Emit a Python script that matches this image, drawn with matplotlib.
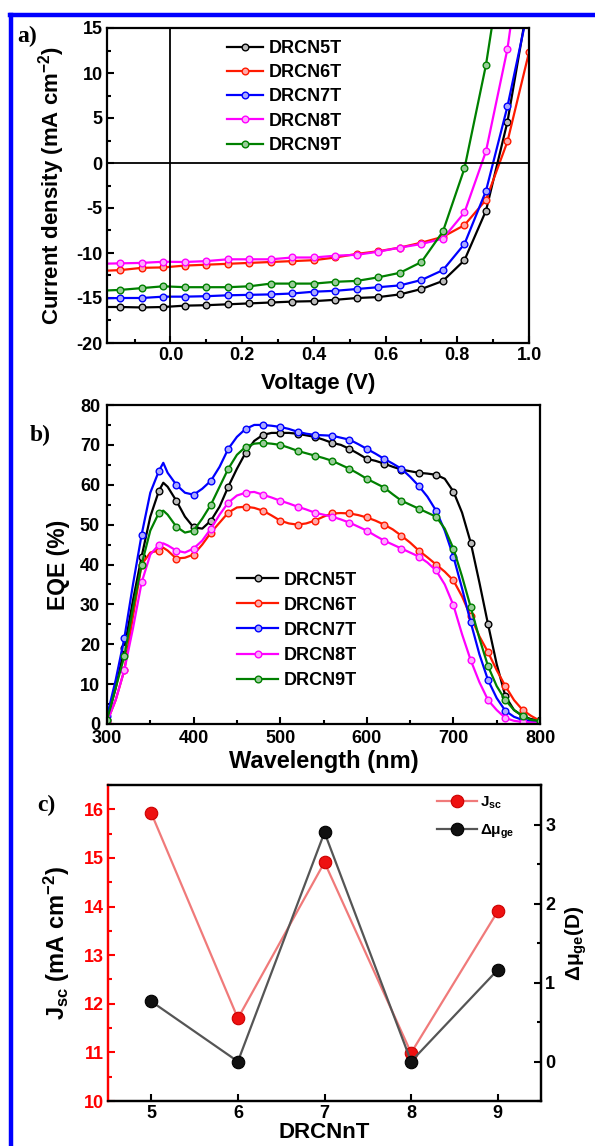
import matplotlib
matplotlib.use("Agg")
import matplotlib.pyplot as plt
from matplotlib.lines import Line2D
from matplotlib.ticker import MultipleLocator
import numpy as np

plt.rcParams['font.family'] = ['Liberation Sans', 'DejaVu Sans']
plt.rcParams['font.weight'] = 'bold'
plt.rcParams['axes.labelweight'] = 'bold'
plt.rcParams['axes.unicode_minus'] = False
plt.rcParams['mathtext.fontset'] = 'custom'
plt.rcParams['mathtext.rm'] = 'Liberation Sans:bold'
plt.rcParams['mathtext.it'] = 'Liberation Sans:bold'
plt.rcParams['mathtext.bf'] = 'Liberation Sans:bold'
plt.rcParams['mathtext.default'] = 'regular'

# ---- data ----
names = ["DRCN5T", "DRCN6T", "DRCN7T", "DRCN8T", "DRCN9T"]
colors = ["#000000", "#ff1a00", "#0000ff", "#ff00ff", "#008000"]
faces = ["#bbbbbb", "#ffaaaa", "#aaaaff", "#ffaaff", "#99cc99"]

# a) J-V curves
voltage = [-0.20, -0.14, -0.08, -0.02, 0.04, 0.10, 0.16, 0.22, 0.28, 0.34, 0.40,
           0.46, 0.52, 0.58, 0.64, 0.70, 0.76, 0.82, 0.88, 0.94, 1.00]
j_5t = [-16.0, -16.0, -16.05, -16.0, -15.85, -15.8, -15.7, -15.6, -15.5, -15.4, -15.35,
        -15.2, -15.0, -14.9, -14.6, -14.0, -13.1, -10.8, -5.3, 4.6, 18.5]
j_6t = [-12.0, -11.9, -11.65, -11.6, -11.4, -11.3, -11.2, -11.1, -11.0, -10.9, -10.8,
        -10.5, -10.1, -9.8, -9.4, -8.85, -8.2, -6.9, -4.1, 2.4, 12.3]
j_7t = [-15.05, -15.0, -15.0, -14.85, -14.85, -14.8, -14.7, -14.65, -14.6, -14.5, -14.3,
        -14.2, -14.0, -13.8, -13.6, -13.0, -11.9, -9.0, -3.1, 6.3, 17.6]
j_8t = [-11.2, -11.15, -11.1, -10.97, -11.0, -10.9, -10.7, -10.7, -10.7, -10.5, -10.5,
        -10.3, -10.2, -9.85, -9.4, -9.0, -8.4, -5.5, 1.3, 12.7, 30.0]
j_9t = [-14.2, -14.1, -13.9, -13.7, -13.8, -13.8, -13.8, -13.7, -13.4, -13.4, -13.4,
        -13.2, -13.1, -12.7, -12.2, -11.0, -7.6, -0.6, 10.9, 26.3, 40.0]

# b) EQE spectra
wavelength = [300, 310, 320, 330, 340, 350, 360, 365, 370, 380, 390, 400, 410, 420, 430,
              440, 450, 460, 470, 480, 490, 500, 510, 520, 530, 540, 550, 560, 570, 580,
              590, 600, 610, 620, 630, 640, 650, 660, 670, 680, 690, 700, 710, 720, 730,
              740, 750, 760, 770, 780, 790, 800]
eqe_5t = [1, 9, 19, 31, 42, 52, 58.5, 60.5, 59.5, 56, 52, 49.3, 49, 51, 54.5,
          59.5, 64, 68, 71, 72.5, 73, 73, 73, 72.8, 72.4, 72, 71.3, 70.5, 70, 69,
          67.8, 66.5, 66, 65.3, 64.5, 63.8, 63.4, 63, 62.8, 62.5, 61.5, 58.3, 53, 45.5, 35.5,
          25, 15, 7, 3.5, 2, 1.2, 1]
eqe_6t = [0.5, 6, 13.5, 27, 40, 43, 43.5, 44.2, 43.5, 41.5, 41.7, 42.5, 45, 48, 50.5,
          53, 54.3, 54.5, 54.2, 53.5, 52.3, 51, 50.3, 50, 50.3, 51, 52, 52.8, 52.9, 52.8,
          52.4, 51.8, 51, 50, 48.8, 47.2, 45.5, 43.5, 41.8, 40, 38.2, 36, 32, 27, 22,
          18, 13.5, 9.5, 6, 3.5, 2, 0.8]
eqe_7t = [2, 11, 21.5, 35, 47.5, 58, 63.5, 65.5, 63, 60, 58, 57.5, 59, 61, 64.5,
          69, 72, 74, 75, 75, 74.8, 74.5, 74, 73.3, 72.8, 72.5, 72.4, 72.3, 71.8, 71.3,
          70.2, 69, 67.8, 66.5, 65.3, 64, 62, 59.7, 57, 53.5, 48.5, 42, 34, 25.5, 17.5,
          11, 6.5, 3.3, 1.8, 1, 0.7, 0.5]
eqe_8t = [0.5, 6, 13.5, 24, 35.5, 42.5, 45, 45.3, 44.8, 43.5, 43, 44, 46, 49, 52.5,
          55.5, 57.3, 58, 58.2, 57.5, 56.8, 56, 55.3, 54.5, 53.8, 53, 52.5, 52, 51.3, 50.5,
          49.5, 48.5, 47.2, 46, 45, 44, 43, 42, 40.5, 38.5, 35, 29.8, 22.5, 16, 10.5,
          6, 3.5, 1.5, 0.8, 0.5, 0.4, 0.3]
eqe_9t = [1, 9, 17, 29, 40, 48.5, 53, 53.5, 52.5, 49.5, 48, 48.5, 51.5, 55, 59.5,
          64, 67.5, 69.5, 70.3, 70.5, 70.3, 70, 69.3, 68.5, 67.9, 67.3, 66.7, 66, 65, 64,
          62.8, 61.5, 60.4, 59.3, 57.6, 56, 55, 54, 53, 52, 49, 44, 37, 29.3, 21.5,
          14.5, 9.5, 6, 3.5, 2, 1, 0.8]

# c) Jsc and dipole change vs n
n_thio = [5, 6, 7, 8, 9]
jsc = [15.92, 11.70, 14.91, 10.99, 13.90]
dmu = [0.76, 0.0, 2.90, 0.0, 1.16]

TICK_FS = 13


def style_axes(ax, right=False):
    for s in ax.spines.values():
        s.set_linewidth(1.6)
    ax.tick_params(which='both', direction='in', top=False, right=right,
                   width=1.5, labelsize=TICK_FS, pad=3)
    ax.tick_params(which='major', length=5)
    ax.tick_params(which='minor', length=3)


fig = plt.figure(figsize=(5.95, 11.46), dpi=100)
W, H = 595.0, 1146.0


def add_ax(x0, y0, x1, y1):
    return fig.add_axes([x0 / W, 1 - y1 / H, (x1 - x0) / W, (y1 - y0) / H])


# ---- panel a ----
ax1 = add_ax(107, 28, 529, 343)
jv = [j_5t, j_6t, j_7t, j_8t, j_9t]
for name, c, f, j in zip(names, colors, faces, jv):
    ax1.plot(voltage, j, color=c, lw=1.6, marker='o', ms=4.8, mfc=f, mec=c, mew=1.0,
             label=name)
ax1.axhline(0, color='black', lw=1.3)
ax1.axvline(0, color='black', lw=1.3)
ax1.set_xlim(-0.177, 1.0)
ax1.set_ylim(-20, 15)
ax1.xaxis.set_major_locator(MultipleLocator(0.2))
ax1.xaxis.set_minor_locator(MultipleLocator(0.1))
ax1.yaxis.set_major_locator(MultipleLocator(5))
ax1.yaxis.set_minor_locator(MultipleLocator(2.5))
ax1.xaxis.set_major_formatter(plt.FuncFormatter(lambda v, p: f"{v:.1f}"))
style_axes(ax1)
ax1.set_xlabel("Voltage (V)", fontsize=16)
ax1.set_ylabel("Current density (mA cm$^{-2}$)", fontsize=16)
ax1.xaxis.set_label_coords(0.5, -0.096)
ax1.yaxis.set_label_coords(-0.095, 0.5)
ax1.legend(loc='upper left', bbox_to_anchor=(0.284, 0.962), frameon=False,
           fontsize=13, handlelength=2.0, handletextpad=0.3, labelspacing=0.4,
           borderpad=0, borderaxespad=0)

# ---- panel b ----
ax2 = add_ax(107, 405, 540, 724)
eqe = [eqe_5t, eqe_6t, eqe_7t, eqe_8t, eqe_9t]
mark_idx = [i for i, w in enumerate(wavelength) if w % 20 == 0]
for name, c, f, e in zip(names, colors, faces, eqe):
    ax2.plot(wavelength, e, color=c, lw=1.6, marker='o', ms=4.8, mfc=f, mec=c, mew=1.0,
             markevery=mark_idx, label=name)
ax2.set_xlim(300, 800)
ax2.set_ylim(0, 80)
ax2.xaxis.set_major_locator(MultipleLocator(100))
ax2.xaxis.set_minor_locator(MultipleLocator(50))
ax2.yaxis.set_major_locator(MultipleLocator(10))
ax2.yaxis.set_minor_locator(MultipleLocator(5))
style_axes(ax2)
ax2.tick_params(axis='x', pad=4.5)
ax2.tick_params(axis='y', pad=5)
ax2.set_xlabel("Wavelength (nm)", fontsize=17)
ax2.set_ylabel("EQE (%)", fontsize=16.5)
ax2.xaxis.set_label_coords(0.5, -0.082)
ax2.yaxis.set_label_coords(-0.085, 0.5)
ax2.legend(loc='upper left', bbox_to_anchor=(0.30, 0.478), frameon=False,
           fontsize=13, handlelength=2.3, handletextpad=0.3, labelspacing=0.45,
           borderpad=0, borderaxespad=0)

# ---- panel c ----
ax3 = add_ax(108, 785, 541, 1101)
ax4 = ax3.twinx()
l1, = ax3.plot(n_thio, jsc, color='#f07a7a', lw=1.6, marker='o', ms=9,
               mfc='#ee1111', mec='#cc0000', mew=0.8, label='J$_{sc}$')
l2, = ax4.plot(n_thio, dmu, color='#555555', lw=1.6, marker='o', ms=9,
               mfc='#111111', mec='#000000', mew=0.8, label='Δμ$_{ge}$')
ax3.set_xlim(4.5, 9.5)
ax3.set_ylim(10, 16.5)
ax4.set_ylim(-0.5, 3.5)
ax3.xaxis.set_major_locator(MultipleLocator(1))
ax3.yaxis.set_major_locator(MultipleLocator(1))
ax3.yaxis.set_minor_locator(MultipleLocator(0.5))
ax4.yaxis.set_major_locator(MultipleLocator(1))
ax4.yaxis.set_minor_locator(MultipleLocator(0.5))
style_axes(ax3)
style_axes(ax4, right=True)
ax4.tick_params(left=False, bottom=False)
ax3.spines['left'].set_color('red')
ax4.spines['left'].set_color('red')
ax3.tick_params(axis='y', which='both', colors='red')
ax3.set_xlabel("DRCNnT", fontsize=16)
ax3.set_ylabel("J$_{sc}$ (mA cm$^{-2}$)", fontsize=17)
ax4.set_ylabel("Δμ$_{ge}$(D)", fontsize=15)
ax3.xaxis.set_label_coords(0.5, -0.068)
ax3.yaxis.set_label_coords(-0.083, 0.5)
ax4.yaxis.set_label_coords(1.052, 0.5)
ax4.legend(handles=[l1, l2], loc='upper left', bbox_to_anchor=(0.76, 0.97),
           frameon=False, fontsize=11, handlelength=2.6, handletextpad=0.2,
           labelspacing=0.75, borderpad=0, borderaxespad=0)

# panel letters
for lab, x, y in [("a)", 17, 26), ("b)", 30, 425), ("c)", 37, 795)]:
    fig.text(x / W, 1 - y / H, lab, fontsize=17, fontweight='bold',
             family='Liberation Serif', ha='left', va='top')

# blue frame (top and left)
fig.add_artist(Line2D([10 / W, 1.0], [1 - 15 / H, 1 - 15 / H], color='#0000ff',
                      lw=3.2, transform=fig.transFigure))
fig.add_artist(Line2D([11 / W, 11 / W], [0.0, 1 - 15 / H], color='#0000ff',
                      lw=3.2, transform=fig.transFigure))

fig.savefig("out.png", dpi=100)
